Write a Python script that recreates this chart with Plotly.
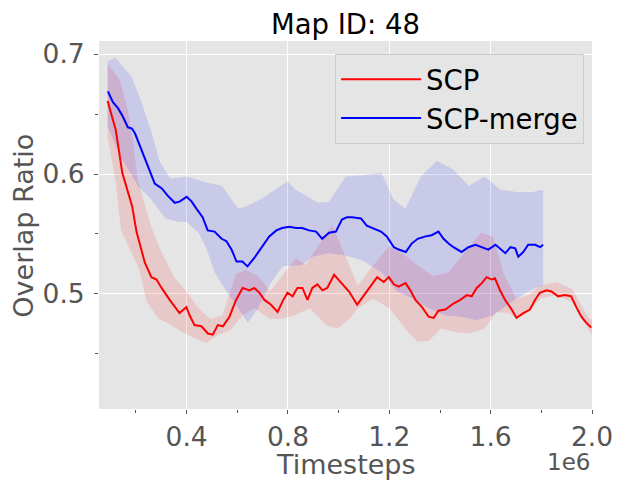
import plotly.graph_objs as go

# SCP (red) - mean curve (x in 1e6 timesteps)
scp_x = [0.088, 0.120, 0.146, 0.165, 0.185, 0.202, 0.235, 0.261, 0.281, 0.301,
         0.333, 0.372, 0.399, 0.412, 0.431, 0.458, 0.484, 0.503, 0.523, 0.543,
         0.569, 0.595, 0.621, 0.648, 0.667, 0.687, 0.707, 0.733, 0.759, 0.779,
         0.798, 0.818, 0.837, 0.857, 0.877, 0.896, 0.916, 0.936, 0.955, 0.982,
         1.014, 1.041, 1.073, 1.106, 1.126, 1.152, 1.178, 1.198, 1.218, 1.237,
         1.264, 1.283, 1.303, 1.329, 1.355, 1.375, 1.394, 1.421, 1.453, 1.480,
         1.506, 1.525, 1.545, 1.565, 1.584, 1.604, 1.617, 1.637, 1.657, 1.683,
         1.702, 1.729, 1.755, 1.775, 1.794, 1.820, 1.840, 1.866, 1.893, 1.918,
         1.938, 1.958, 1.977, 1.997]
scp_mean = [0.661, 0.637, 0.601, 0.587, 0.573, 0.552, 0.526, 0.514, 0.512, 0.505,
            0.495, 0.484, 0.489, 0.482, 0.474, 0.473, 0.467, 0.466, 0.474, 0.473,
            0.481, 0.495, 0.505, 0.503, 0.505, 0.501, 0.495, 0.491, 0.485, 0.494,
            0.501, 0.498, 0.505, 0.505, 0.495, 0.505, 0.508, 0.503, 0.505, 0.516,
            0.508, 0.502, 0.491, 0.501, 0.506, 0.514, 0.510, 0.514, 0.508, 0.506,
            0.509, 0.503, 0.495, 0.489, 0.481, 0.480, 0.486, 0.487, 0.492, 0.495,
            0.499, 0.498, 0.505, 0.509, 0.514, 0.512, 0.513, 0.503, 0.495, 0.487,
            0.480, 0.484, 0.487, 0.495, 0.501, 0.503, 0.502, 0.498, 0.499, 0.498,
            0.489, 0.481, 0.476, 0.472]

# SCP shaded band
scp_up_x = [0.088, 0.137, 0.168, 0.188, 0.207, 0.259, 0.290, 0.322, 0.353, 0.400,
            0.447, 0.494, 0.541, 0.569, 0.595, 0.635, 0.682, 0.729, 0.776, 0.831,
            0.871, 0.918, 0.975, 1.028, 1.075, 1.137, 1.200, 1.263, 1.310, 1.373,
            1.435, 1.498, 1.561, 1.608, 1.655, 1.702, 1.749, 1.796, 1.859, 1.922,
            1.984, 2.000]
scp_upper = [0.692, 0.678, 0.653, 0.628, 0.595, 0.557, 0.540, 0.526, 0.513, 0.502,
             0.488, 0.479, 0.482, 0.500, 0.517, 0.520, 0.515, 0.502, 0.515, 0.530,
             0.524, 0.540, 0.557, 0.531, 0.507, 0.524, 0.540, 0.532, 0.524, 0.515,
             0.518, 0.535, 0.551, 0.548, 0.515, 0.496, 0.499, 0.507, 0.510, 0.504,
             0.481, 0.478]
scp_lo_x = [0.088, 0.121, 0.141, 0.212, 0.243, 0.290, 0.337, 0.384, 0.431, 0.478,
            0.525, 0.573, 0.620, 0.667, 0.729, 0.776, 0.824, 0.886, 0.949, 0.996,
            1.043, 1.075, 1.137, 1.200, 1.263, 1.310, 1.357, 1.404, 1.467, 1.514,
            1.576, 1.624, 1.671, 1.702, 1.749, 1.796, 1.859, 1.922, 1.984, 2.000]
scp_lower = [0.631, 0.592, 0.553, 0.521, 0.493, 0.479, 0.474, 0.468, 0.463, 0.459,
             0.466, 0.470, 0.482, 0.488, 0.479, 0.479, 0.482, 0.488, 0.474, 0.471,
             0.479, 0.488, 0.496, 0.488, 0.471, 0.460, 0.461, 0.471, 0.468, 0.467,
             0.471, 0.485, 0.484, 0.479, 0.485, 0.496, 0.499, 0.493, 0.471, 0.466]

# SCP-merge (blue) - mean curve
merge_x = [0.089, 0.109, 0.129, 0.148, 0.168, 0.184, 0.196, 0.215, 0.243, 0.274,
           0.302, 0.325, 0.353, 0.372, 0.400, 0.420, 0.439, 0.463, 0.483, 0.510,
           0.538, 0.557, 0.577, 0.597, 0.620, 0.640, 0.667, 0.695, 0.726, 0.754,
           0.777, 0.805, 0.832, 0.856, 0.883, 0.911, 0.935, 0.962, 0.989, 1.013,
           1.033, 1.053, 1.088, 1.111, 1.131, 1.167, 1.190, 1.218, 1.237, 1.265,
           1.288, 1.312, 1.343, 1.367, 1.394, 1.414, 1.434, 1.453, 1.485, 1.512,
           1.540, 1.564, 1.591, 1.619, 1.642, 1.658, 1.678, 1.697, 1.709, 1.729,
           1.748, 1.776, 1.795, 1.807]
merge_mean = [0.669, 0.660, 0.655, 0.648, 0.639, 0.638, 0.634, 0.624, 0.609, 0.592,
              0.588, 0.582, 0.576, 0.577, 0.581, 0.577, 0.571, 0.564, 0.553, 0.552,
              0.546, 0.544, 0.537, 0.527, 0.527, 0.523, 0.530, 0.539, 0.548, 0.553,
              0.555, 0.556, 0.555, 0.555, 0.553, 0.552, 0.546, 0.551, 0.552, 0.562,
              0.564, 0.564, 0.563, 0.557, 0.555, 0.552, 0.548, 0.539, 0.537, 0.535,
              0.542, 0.546, 0.548, 0.549, 0.552, 0.546, 0.542, 0.539, 0.535, 0.539,
              0.541, 0.539, 0.537, 0.541, 0.537, 0.534, 0.539, 0.538, 0.531, 0.535,
              0.541, 0.541, 0.539, 0.541]

# SCP-merge shaded band
merge_up_x = [0.088, 0.118, 0.148, 0.183, 0.222, 0.261, 0.294, 0.337, 0.400, 0.478,
              0.541, 0.569, 0.604, 0.635, 0.700, 0.798, 0.831, 0.918, 0.962, 1.028,
              1.092, 1.169, 1.216, 1.263, 1.325, 1.388, 1.451, 1.514, 1.576, 1.639,
              1.702, 1.765, 1.807]
merge_upper = [0.694, 0.697, 0.690, 0.681, 0.660, 0.635, 0.610, 0.596, 0.598, 0.593,
               0.590, 0.581, 0.571, 0.573, 0.580, 0.594, 0.587, 0.576, 0.577, 0.598,
               0.599, 0.601, 0.579, 0.571, 0.598, 0.611, 0.604, 0.590, 0.598, 0.587,
               0.585, 0.585, 0.587]
merge_lo_x = [0.088, 0.137, 0.180, 0.211, 0.251, 0.316, 0.369, 0.400, 0.447, 0.478,
              0.510, 0.557, 0.604, 0.641, 0.682, 0.729, 0.779, 0.855, 0.897, 0.962,
              1.028, 1.092, 1.169, 1.231, 1.294, 1.357, 1.420, 1.482, 1.545, 1.608,
              1.655, 1.702, 1.765, 1.807]
merge_lower = [0.640, 0.615, 0.600, 0.589, 0.581, 0.563, 0.560, 0.560, 0.551, 0.538,
               0.518, 0.502, 0.488, 0.476, 0.488, 0.508, 0.523, 0.524, 0.531, 0.534,
               0.532, 0.528, 0.518, 0.502, 0.496, 0.488, 0.482, 0.481, 0.478, 0.482,
               0.489, 0.496, 0.504, 0.507]

grey = "#555555"
font = "DejaVu Sans"

fig = go.Figure()

fig.add_trace(go.Scatter(x=scp_up_x + scp_lo_x[::-1], y=scp_upper + scp_lower[::-1],
                         fill="toself", fillcolor="rgba(255,0,0,0.12)", mode="none",
                         showlegend=False, hoverinfo="skip"))
fig.add_trace(go.Scatter(x=merge_up_x + merge_lo_x[::-1], y=merge_upper + merge_lower[::-1],
                         fill="toself", fillcolor="rgba(0,0,255,0.12)", mode="none",
                         showlegend=False, hoverinfo="skip"))
fig.add_trace(go.Scatter(x=scp_x, y=scp_mean, mode="lines", name="SCP",
                         line=dict(color="red", width=2), legendgroup="a"))
fig.add_trace(go.Scatter(x=merge_x, y=merge_mean, mode="lines", name="SCP-merge",
                         line=dict(color="blue", width=2), legendgroup="b"))

# page body has an 8px margin, so the figure is drawn 8px smaller
fig.update_layout(
    width=617, height=483,
    margin=dict(l=91, r=31, t=33, b=82),
    paper_bgcolor="white",
    plot_bgcolor="#E5E5E5",
    font=dict(family=font, color=grey),
    title=dict(text="Map ID: 48", font=dict(size=27.5, color="black", family=font),
               x=0.5, xref="paper", xanchor="center", y=0.966, yanchor="middle"),
    legend=dict(x=0.984, y=0.965, xanchor="right", yanchor="top",
                bgcolor="#E5E5E5", bordercolor="#CCCCCC", borderwidth=1,
                font=dict(size=27.5, color="black", family=font),
                itemwidth=80, tracegroupgap=0),
    showlegend=True,
)

fig.update_xaxes(range=[0.054, 2.0], tickmode="linear", tick0=0.4, dtick=0.4,
                 tickformat=".1f", showgrid=True, gridcolor="white", gridwidth=1.3,
                 zeroline=False, showline=False, ticks="outside", ticklen=4,
                 tickcolor=grey, tickfont=dict(size=26.5, color=grey),
                 minor=dict(tickmode="linear", tick0=0.2, dtick=0.4, ticks="outside",
                            ticklen=3, tickcolor=grey, showgrid=False))
fig.update_yaxes(range=[0.404, 0.711], tickmode="linear", tick0=0.5, dtick=0.1,
                 tickformat=".1f", showgrid=True, gridcolor="white", gridwidth=1.3,
                 zeroline=False, showline=False, ticks="outside", ticklen=4,
                 tickcolor=grey, tickfont=dict(size=26.5, color=grey),
                 ticklabelstandoff=4,
                 minor=dict(tickmode="linear", tick0=0.45, dtick=0.1, ticks="outside",
                            ticklen=3, tickcolor=grey, showgrid=False))

fig.add_annotation(text="Overlap Ratio", textangle=-90, xref="paper", yref="paper",
                   x=-0.153, y=0.497, xanchor="center", yanchor="middle", showarrow=False,
                   font=dict(size=27, color=grey, family=font))
fig.add_annotation(text="Timesteps", xref="paper", yref="paper",
                   x=0.5, y=-0.152, xanchor="center", yanchor="middle", showarrow=False,
                   font=dict(size=27, color=grey, family=font))
fig.add_annotation(text="1e6", xref="paper", yref="paper",
                   x=1.0, y=-0.144, xanchor="right", yanchor="middle", showarrow=False,
                   font=dict(size=23, color=grey, family=font))

fig.write_html("out.html")
